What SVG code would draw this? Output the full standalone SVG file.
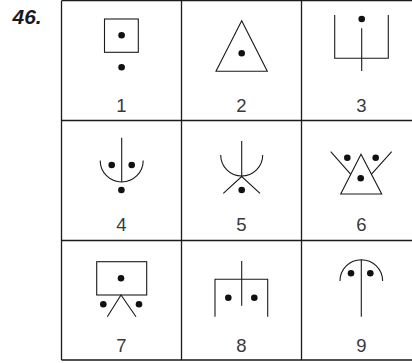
<svg xmlns="http://www.w3.org/2000/svg" width="412" height="363" viewBox="0 0 412 363">
<style>
.grid{fill:none;stroke:#1a1a1a;stroke-width:1.3}
.s{fill:none;stroke:#1a1a1a;stroke-width:1.1}
.d{fill:#111}
.lbl{font-family:"Liberation Sans",Arial,sans-serif;font-size:18.5px;fill:#3a3a3a;text-anchor:middle}
.num{font-family:"Liberation Sans",Arial,sans-serif;font-size:21px;font-weight:bold;font-style:italic;fill:#1a1a1a}
</style>
<rect width="412" height="363" fill="#fff"/>
<text class="num" x="12.5" y="23.5">46.</text>
<g id="grid">
<path class="grid" d="M61.5,0.7 H412 M61.5,120.5 H412 M61.5,240.5 H412 M61.5,360 H412 M61.5,0.7 V360 M181.5,0.7 V360 M301.5,0.7 V360"/>
</g>
<g id="connectors"></g>
<g id="n1">
<rect class="s" x="104.5" y="19" width="33.8" height="33.3"/>
<circle class="d" cx="121.6" cy="35.2" r="3.3"/>
<circle class="d" cx="121.6" cy="67.3" r="3.3"/>
<text class="lbl" x="121.5" y="111.5">1</text>
</g>
<g id="n2">
<polygon class="s" points="241.7,20.7 216,71.3 267.3,71.3"/>
<circle class="d" cx="241.7" cy="53.3" r="3.3"/>
<text class="lbl" x="241.5" y="111.5">2</text>
</g>
<g id="n3">
<path class="s" d="M334.7,15 V58.3 H388.3 V15 M361.7,28.3 V71"/>
<circle class="d" cx="361.7" cy="19" r="3.3"/>
<text class="lbl" x="361.5" y="111.5">3</text>
</g>
<g id="n4">
<path class="s" d="M100.2,160.5 A21.5,21.5 0 0 0 143.2,160.5 M121.7,137.7 V181.7"/>
<circle class="d" cx="111.7" cy="165" r="3.3"/>
<circle class="d" cx="131.7" cy="165" r="3.3"/>
<circle class="d" cx="121.4" cy="190" r="3.3"/>
<text class="lbl" x="121.5" y="230.5">4</text>
</g>
<g id="n5">
<path class="s" d="M220.7,155 A21,21 0 0 0 262.7,155 M241.7,141 V176.5 M223.3,193.3 L241.7,176.5 L260,193.3"/>
<circle class="d" cx="241.7" cy="190" r="3.3"/>
<text class="lbl" x="241.5" y="230.5">5</text>
</g>
<g id="n6">
<polygon class="s" points="361,154.3 340.7,194 381.7,194"/>
<path class="s" d="M330.7,151.7 L350.8,174.3 M391.7,151.7 L371.3,174.3"/>
<circle class="d" cx="347.3" cy="157.7" r="3.3"/>
<circle class="d" cx="375.7" cy="157.7" r="3.3"/>
<circle class="d" cx="360.7" cy="178.3" r="3.3"/>
<text class="lbl" x="361.5" y="230.5">6</text>
</g>
<g id="n7">
<rect class="s" x="96.7" y="261.7" width="50" height="33.3"/>
<circle class="d" cx="121" cy="278.3" r="3.3"/>
<path class="s" d="M107.3,316.7 L121,295 L136,316.7"/>
<circle class="d" cx="103.3" cy="304.3" r="3.3"/>
<circle class="d" cx="139" cy="304.3" r="3.3"/>
<text class="lbl" x="121.5" y="351.5">7</text>
</g>
<g id="n8">
<path class="s" d="M241.7,261 V305.7 M215,316.7 V279.3 H267.7 V316.7"/>
<circle class="d" cx="228.3" cy="297.7" r="3.3"/>
<circle class="d" cx="254.3" cy="297.7" r="3.3"/>
<text class="lbl" x="241.5" y="351.5">8</text>
</g>
<g id="n9">
<path class="s" d="M340,281 A21.3,21.3 0 0 1 382.6,281 M361.3,259.7 V316.7"/>
<circle class="d" cx="351" cy="273.3" r="3.3"/>
<circle class="d" cx="370.3" cy="273.3" r="3.3"/>
<text class="lbl" x="361.5" y="351.5">9</text>
</g>
</svg>
